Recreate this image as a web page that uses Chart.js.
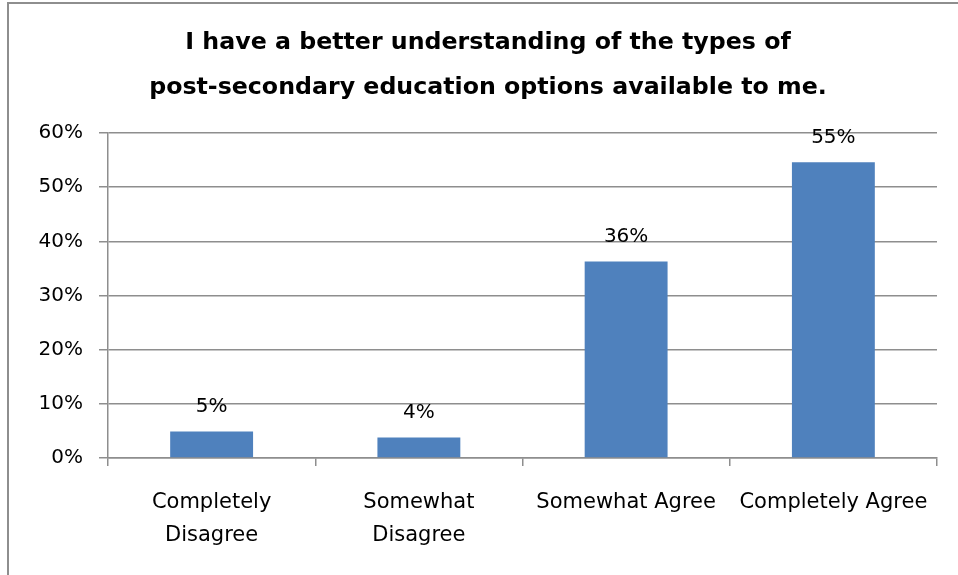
<!DOCTYPE html>
<html>
<head>
<meta charset="utf-8">
<script src="https://cdn.jsdelivr.net/npm/chart.js@4"></script>
<style>
  html, body { margin: 0; padding: 0; background: #fff; }
  #wrap { position: relative; width: 958px; height: 575px; overflow: hidden; }
  #frame { position: absolute; left: 7px; top: 2px; width: 2000px; height: 2000px;
           border-left: 2px solid #8e8e8e; border-top: 2px solid #8e8e8e; box-sizing: border-box; }
  #c { position: absolute; left: 0; top: 0; }
</style>
</head>
<body>
<div id="wrap">
  <div id="frame"></div>
  <canvas id="c" width="958" height="575"></canvas>
</div>
<script>
const titleLines = ["I have a better understanding of the types of", "post-secondary education options available to me."];
const categories = [["Completely", "Disagree"], ["Somewhat", "Disagree"], ["Somewhat Agree"], ["Completely Agree"]];
const values = [4.9, 3.8, 36.3, 54.6];
const yTicks = [0, 10, 20, 30, 40, 50, 60];

const FONT = "'DejaVu Sans', sans-serif";
const GRID = '#8e8e8e';

const dataLabelPlugin = {
  id: 'dataLabels',
  afterDatasetsDraw(chart) {
    const ctx = chart.ctx;
    const meta = chart.getDatasetMeta(0);
    ctx.save();
    ctx.font = "20px " + FONT;
    ctx.fillStyle = '#000';
    ctx.textAlign = 'center';
    ctx.textBaseline = 'middle';
    meta.data.forEach((bar, i) => {
      ctx.fillText(Math.round(values[i]) + '%', bar.x, bar.y - 25);
    });
    ctx.restore();
  }
};

new Chart(document.getElementById('c'), {
  type: 'bar',
  data: {
    labels: categories,
    datasets: [{
      data: values,
      backgroundColor: '#4F81BD',
      borderWidth: 0,
      categoryPercentage: 1.0,
      barPercentage: 0.4
    }]
  },
  options: {
    responsive: false,
    animation: false,
    devicePixelRatio: 1,
    layout: { padding: { left: 39, right: 21, top: 0, bottom: 3 } },
    plugins: {
      legend: { display: false },
      tooltip: { enabled: false },
      title: {
        display: true,
        text: titleLines,
        color: '#000',
        font: { family: FONT, size: 23.7, weight: 'bold', lineHeight: 1.9 },
        padding: { top: 20, bottom: 23 }
      }
    },
    scales: {
      x: {
        offset: true,
        grid: { display: true, drawOnChartArea: false, drawTicks: true, tickLength: 8, color: GRID, lineWidth: 1.5, offset: true },
        border: { display: true, color: GRID, width: 1.5 },
        ticks: { color: '#000', font: { family: FONT, size: 21, lineHeight: 1.57 }, padding: 20, maxRotation: 0, autoSkip: false }
      },
      y: {
        min: 0, max: 60,
        afterBuildTicks(scale) { scale.ticks = yTicks.map(v => ({ value: v })); },
        afterFit(scale) { scale.width = 69; },
        grid: { color: GRID, lineWidth: 1.5, drawTicks: true, tickLength: 9 },
        border: { display: true, color: GRID, width: 1.5 },
        ticks: { color: '#000', font: { family: FONT, size: 20 }, padding: 16, callback: v => v + '%' }
      }
    }
  },
  plugins: [dataLabelPlugin]
});
</script>
</body>
</html>
